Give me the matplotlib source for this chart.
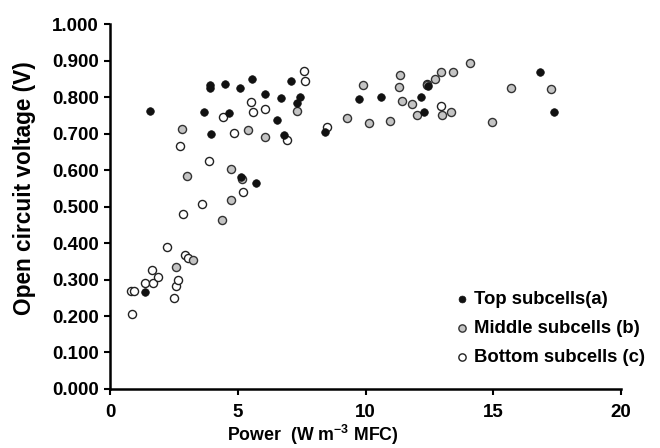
import matplotlib
matplotlib.use('Agg')
import matplotlib.pyplot as plt

plt.rcParams['font.family'] = ['Liberation Sans', 'DejaVu Sans']
plt.rcParams['font.weight'] = 'bold'
plt.rcParams['mathtext.fontset'] = 'custom'
plt.rcParams['mathtext.rm'] = 'Liberation Sans:bold'
plt.rcParams['mathtext.default'] = 'rm'

# top subcells (a)
top_x = [1.36, 1.57, 3.69, 3.91, 3.93, 3.95, 4.50, 4.66, 5.10, 5.13, 5.57, 5.70,
         6.05, 6.52, 6.68, 6.82, 7.07, 7.30, 7.42, 8.41, 9.75, 10.60, 12.17,
         12.29, 12.45, 16.83, 17.36]
top_y = [0.265, 0.762, 0.758, 0.826, 0.834, 0.699, 0.837, 0.757, 0.825, 0.582,
         0.849, 0.565, 0.809, 0.736, 0.798, 0.695, 0.844, 0.784, 0.801, 0.704,
         0.795, 0.801, 0.799, 0.758, 0.829, 0.869, 0.760]

# middle subcells (b)
mid_x = [2.57, 2.80, 3.03, 3.24, 4.40, 4.72, 4.75, 5.15, 5.39, 6.05, 7.33, 9.26,
         9.89, 10.12, 10.97, 11.31, 11.36, 11.42, 11.80, 12.00, 12.39, 12.73,
         12.94, 12.98, 13.36, 13.44, 14.09, 14.93, 15.68, 17.25]
mid_y = [0.333, 0.712, 0.584, 0.353, 0.464, 0.603, 0.519, 0.575, 0.709, 0.691,
         0.763, 0.743, 0.834, 0.730, 0.733, 0.827, 0.860, 0.790, 0.782, 0.751,
         0.834, 0.848, 0.869, 0.752, 0.758, 0.869, 0.894, 0.731, 0.825, 0.822]

# bottom subcells (c)
bot_x = [0.82, 0.87, 0.94, 1.38, 1.66, 1.70, 1.89, 2.24, 2.50, 2.57, 2.65, 2.75,
         2.87, 2.95, 3.07, 3.59, 3.87, 4.42, 4.87, 5.20, 5.51, 5.61, 6.05, 6.93,
         7.58, 7.63, 8.48, 12.39, 12.97]
bot_y = [0.269, 0.206, 0.269, 0.290, 0.327, 0.290, 0.307, 0.388, 0.248, 0.281,
         0.299, 0.667, 0.480, 0.366, 0.358, 0.508, 0.625, 0.744, 0.701, 0.541,
         0.787, 0.758, 0.766, 0.683, 0.872, 0.843, 0.718, 0.837, 0.774]

x_ticks = [0, 5, 10, 15, 20]
y_ticks = [0.0, 0.1, 0.2, 0.3, 0.4, 0.5, 0.6, 0.7, 0.8, 0.9, 1.0]

fig = plt.figure(figsize=(6.6, 4.48), dpi=100)
ax = fig.add_axes([0.1667, 0.1317, 0.7743, 0.8147])

ax.scatter(bot_x, bot_y, s=34, facecolor='white', edgecolor='#222222',
           linewidth=1.0, label='Bottom subcells (c)', zorder=3)
ax.scatter(mid_x, mid_y, s=34, facecolor='#c4c4c4', edgecolor='#333333',
           linewidth=1.0, label='Middle subcells (b)', zorder=3)
ax.scatter(top_x, top_y, s=30, facecolor='#111111', edgecolor='#111111',
           linewidth=0.5, label='Top subcells(a)', zorder=4)

ax.set_xlim(0, 20)
ax.set_ylim(0, 1)
ax.set_xticks(x_ticks)
ax.set_xticklabels([str(t) for t in x_ticks])
ax.set_yticks(y_ticks)
ax.set_yticklabels([f'{t:.3f}' for t in y_ticks])

for side in ['top', 'right']:
    ax.spines[side].set_visible(False)
for side in ['left', 'bottom']:
    ax.spines[side].set_linewidth(1.8)
ax.tick_params(direction='out', length=4, width=1.5, labelsize=13.5)
ax.tick_params(axis='x', pad=7)
ax.tick_params(axis='y', pad=4)
for lab in ax.get_xticklabels() + ax.get_yticklabels():
    lab.set_fontweight('bold')

ax.set_xlabel('Power  (W m$^{-3}$ MFC)', fontsize=12.8, fontweight='bold')
ax.xaxis.set_label_coords(0.397, -0.093)
ax.set_ylabel('Open circuit voltage (V)', fontsize=16.3, fontweight='bold')
ax.yaxis.set_label_coords(-0.145, 0.55)

handles, labels = ax.get_legend_handles_labels()
leg = ax.legend(handles[::-1], labels[::-1], loc='upper left',
                bbox_to_anchor=(0.653, 0.294), frameon=False, fontsize=13.3,
                handlelength=1.0, handletextpad=0.15, labelspacing=0.64,
                borderpad=0, markerscale=0.9)
for t in leg.get_texts():
    t.set_fontweight('bold')

fig.savefig('out.png', dpi=100)
